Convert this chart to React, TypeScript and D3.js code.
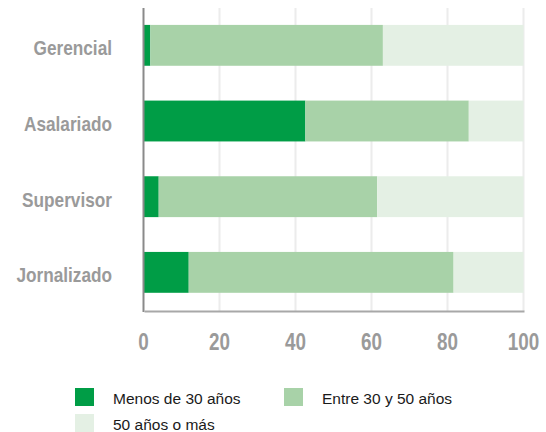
import React, { useEffect, useRef } from "react";
import * as d3 from "d3";

const categories = ["Gerencial", "Asalariado", "Supervisor", "Jornalizado"];
const seriesNames = ["Menos de 30 años", "Entre 30 y 50 años", "50 años o más"];
const menos30 = [1.8, 42.6, 4.0, 11.9];
const entre30y50 = [61.2, 43.0, 57.5, 69.7];
const mas50 = [37.0, 14.4, 38.5, 18.4];
const xTicks = [0, 20, 40, 60, 80, 100];
const colors = ["#009d46", "#a8d2a8", "#e4f0e4"];

const W = 546;
const H = 432;
// no narrow font installed, so squeeze the bold sans horizontally
const SQUEEZE = 0.82;

const App = () => {
  const ref = useRef<SVGSVGElement | null>(null);

  useEffect(() => {
    const svg = d3.select(ref.current);
    svg.selectAll("*").remove();

    const rows = categories.map((c, i) => ({
      cat: c,
      v0: menos30[i],
      v1: entre30y50[i],
      v2: mas50[i],
    }));

    const x = d3.scaleLinear().domain([0, 100]).range([143.5, 523.5]);
    const y = d3
      .scaleBand()
      .domain(categories)
      .range([7.5, 310.2])
      .paddingInner(0.46)
      .paddingOuter(0.23);

    const stack = d3.stack<any>().keys(["v0", "v1", "v2"]);
    const layers = stack(rows);

    // grid lines
    svg
      .append("g")
      .selectAll("line")
      .data(xTicks.slice(1))
      .join("line")
      .attr("x1", (d) => x(d))
      .attr("x2", (d) => x(d))
      .attr("y1", 8)
      .attr("y2", 311)
      .attr("stroke", "#ececec")
      .attr("stroke-width", 2);

    // bars
    svg
      .append("g")
      .selectAll("g")
      .data(layers)
      .join("g")
      .attr("fill", (_d, i) => colors[i])
      .selectAll("rect")
      .data((d) => d)
      .join("rect")
      .attr("x", (d) => x(d[0]))
      .attr("width", (d) => x(Math.min(d[1], 100)) - x(d[0]))
      .attr("y", (d) => y(d.data.cat) as number)
      .attr("height", y.bandwidth());

    // axis lines
    svg
      .append("line")
      .attr("x1", x(0))
      .attr("x2", x(0))
      .attr("y1", 8)
      .attr("y2", 312)
      .attr("stroke", "#8a8a8a")
      .attr("stroke-width", 2);
    svg
      .append("line")
      .attr("x1", x(0) + 1)
      .attr("x2", x(100) + 1)
      .attr("y1", 311.5)
      .attr("y2", 311.5)
      .attr("stroke", "#a8a8a8")
      .attr("stroke-width", 2);

    const sans = "'Liberation Sans', Arial, sans-serif";

    // category labels
    svg
      .append("g")
      .selectAll("text")
      .data(categories)
      .join("text")
      .attr(
        "transform",
        (d) =>
          `translate(112,${(y(d) as number) + y.bandwidth() / 2 + 10}) scale(${SQUEEZE},1)`
      )
      .attr("text-anchor", "end")
      .attr("font-family", sans)
      .attr("font-weight", "bold")
      .attr("font-size", 21)
      .attr("fill", "#9a9a9a")
      .text((d) => d);

    // tick labels
    svg
      .append("g")
      .selectAll("text")
      .data(xTicks)
      .join("text")
      .attr("transform", (d) => `translate(${x(d)},350) scale(${SQUEEZE},1)`)
      .attr("text-anchor", "middle")
      .attr("font-family", sans)
      .attr("font-weight", "bold")
      .attr("font-size", 23)
      .attr("fill", "#9a9a9a")
      .text((d) => d);

    // legend
    const legendPos = [
      { x: 75, y: 388 },
      { x: 284, y: 388 },
      { x: 75, y: 414 },
    ];
    const legend = svg
      .append("g")
      .selectAll("g")
      .data(seriesNames)
      .join("g")
      .attr("transform", (_d, i) => `translate(${legendPos[i].x},${legendPos[i].y})`);
    legend
      .append("rect")
      .attr("width", 19)
      .attr("height", 18)
      .attr("fill", (_d, i) => colors[i]);
    legend
      .append("text")
      .attr("x", 38)
      .attr("y", 16.3)
      .attr("font-family", sans)
      .attr("font-size", 15.5)
      .attr("fill", "#1a1a1a")
      .text((d) => d);
  }, []);

  return (
    <svg
      ref={ref}
      width={W}
      height={H}
      style={{ position: "absolute", left: 0, top: 0, background: "#fff" }}
    />
  );
};

export default App;
